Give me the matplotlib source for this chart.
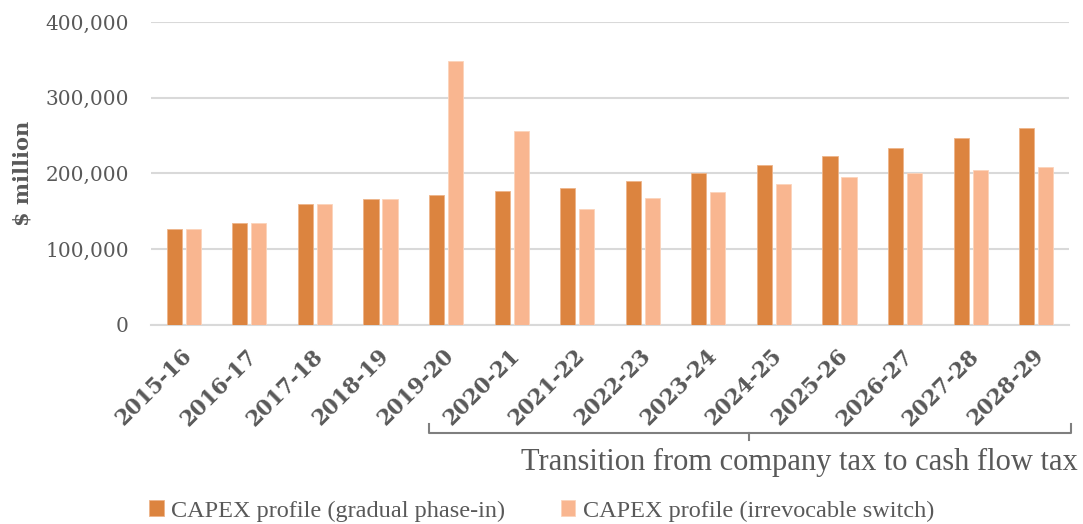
import numpy as np
import matplotlib.pyplot as plt
import matplotlib.transforms as mtransforms
from matplotlib.lines import Line2D

years = ["2015-16", "2016-17", "2017-18", "2018-19", "2019-20", "2020-21", "2021-22",
         "2022-23", "2023-24", "2024-25", "2025-26", "2026-27", "2027-28", "2028-29"]

gradual = [127000, 134000, 159500, 166000, 172000, 177000, 181000,
           190000, 200000, 211000, 223000, 234000, 247000, 260000]
switch = [127000, 134000, 159500, 166000, 349000, 255500, 153000,
          167000, 176000, 186000, 195000, 201000, 205000, 209000]

labels = ["CAPEX profile (gradual phase-in)", "CAPEX profile (irrevocable switch)"]

dark = "#DC843F"
light = "#F9B690"
grey = "#595959"

fig = plt.figure(figsize=(10.83, 5.24), dpi=100)
ax = fig.add_axes([0.1394, 0.3798, 0.8477, 0.5782])

x = np.arange(len(years))
w = 0.23
ax.bar(x - 0.145, gradual, w, color=dark, edgecolor="#EDB58A", linewidth=0.6, label=labels[0], zorder=3)
ax.bar(x + 0.145, switch, w, color=light, edgecolor="#FCD3BB", linewidth=0.6, label=labels[1], zorder=3)

ax.set_xlim(-0.5, len(years) - 0.5)
ax.set_ylim(0, 400000)
ax.set_yticks(range(0, 400001, 100000))
ax.set_yticklabels([f"{v:,}" for v in range(0, 400001, 100000)],
                   fontfamily="DejaVu Serif", fontsize=14.5, color=grey)
ax.yaxis.grid(True, color="#D9D9D9", linewidth=1.5, zorder=0)
ax.tick_params(axis="y", length=0, pad=16)
ax.tick_params(axis="x", length=0, pad=20)
for s in ["top", "right", "left"]:
    ax.spines[s].set_visible(False)
ax.spines["bottom"].set_color("#D9D9D9")
ax.spines["bottom"].set_linewidth(1.5)

ax.set_xticks(x)
ax.set_xticklabels(years, rotation=45, ha="right", va="center", rotation_mode="anchor",
                   fontfamily="DejaVu Serif", fontweight="bold", fontsize=15.5, color=grey)
shift = mtransforms.ScaledTranslation(5 / 100, 0, fig.dpi_scale_trans)
for t in ax.get_xticklabels():
    t.set_transform(t.get_transform() + shift)

ax.set_ylabel("$ million", fontfamily="DejaVu Serif", fontweight="bold", fontsize=15,
              color=grey, labelpad=9)

# bracket for the transition period
W, H = 1083, 524
def fx(px):
    return px / W
def fy(py):
    return 1 - py / H
bc = "#7F7F7F"
fig.add_artist(Line2D([fx(429), fx(429), fx(1071), fx(1071)],
                      [fy(424), fy(433), fy(433), fy(424)], color=bc, lw=1.5))
fig.add_artist(Line2D([fx(749), fx(749)], [fy(433), fy(440)], color=bc, lw=1.5))
fig.text(fx(1078), fy(462), "Transition from company tax to cash flow tax",
         ha="right", va="center", fontfamily="Liberation Serif", fontsize=22, color=grey)

fig.legend(loc="center", bbox_to_anchor=(0.5, fy(511)), ncol=2, frameon=False,
           prop={"family": "Liberation Serif", "size": 17.5}, labelcolor=grey,
           handlelength=0.6, handleheight=0.6, handletextpad=0.3, columnspacing=2.3)

fig.savefig("out.png", dpi=100)
